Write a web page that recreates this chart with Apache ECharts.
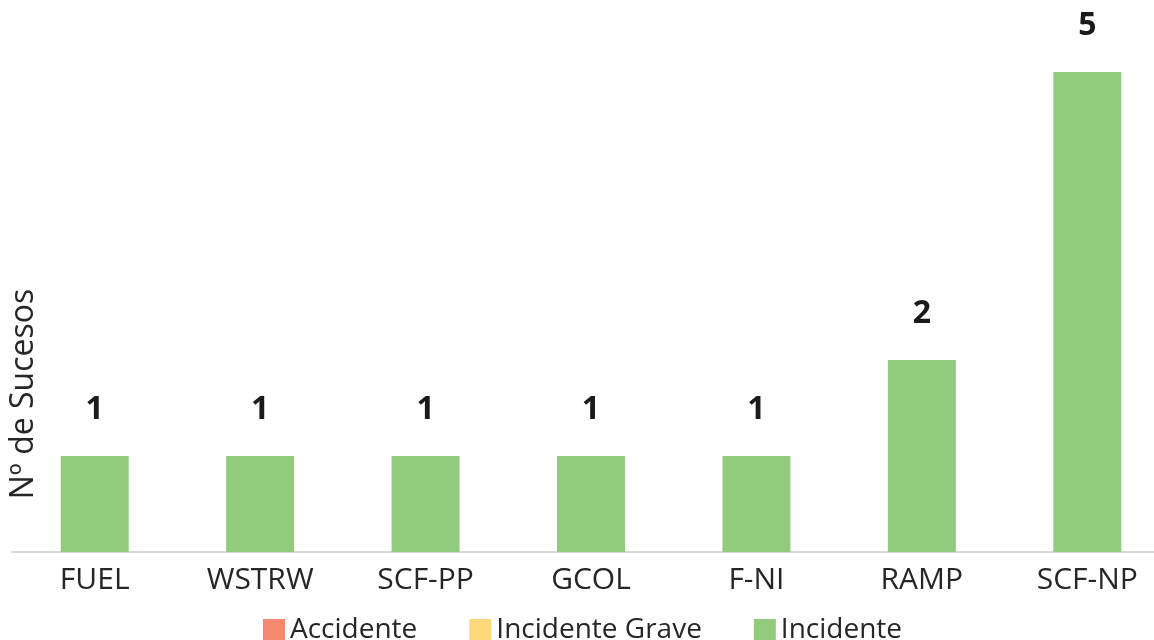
<!DOCTYPE html>
<html>
<head>
<meta charset="utf-8">
<script src="https://cdn.jsdelivr.net/npm/echarts@6/dist/echarts.min.js"></script>
<style>
html,body{margin:0;padding:0;background:#fff;}
#chart{width:1154px;height:640px;}
</style>
</head>
<body>
<div id="chart"></div>
<script>
var categories = ['FUEL', 'WSTRW', 'SCF-PP', 'GCOL', 'F-NI', 'RAMP', 'SCF-NP'];
var accidente = [0, 0, 0, 0, 0, 0, 0];
var incidenteGrave = [0, 0, 0, 0, 0, 0, 0];
var incidente = [1, 1, 1, 1, 1, 2, 5];
var seriesNames = ['Accidente', 'Incidente Grave', 'Incidente'];
var yAxisTitle = 'Nº de Sucesos';

var FONT = '"Open Sans", "Noto Sans", sans-serif';
var chart = echarts.init(document.getElementById('chart'), null, {renderer: 'canvas'});
chart.setOption({
  animation: false,
  backgroundColor: '#ffffff',
  textStyle: {fontFamily: FONT},
  grid: {left: 12, right: -16, top: 72, bottom: 88, containLabel: false, outerBoundsMode: 'none'},
  legend: {
    data: seriesNames,
    left: 258,
    top: 611,
    itemWidth: 22,
    itemHeight: 22,
    itemGap: 52,
    icon: 'rect',
    textStyle: {fontSize: 28, color: '#262626', fontFamily: FONT}
  },
  graphic: [{
    type: 'text',
    x: 24,
    y: 394,
    rotation: Math.PI / 2,
    style: {
      text: yAxisTitle,
      fontSize: 32,
      fontFamily: FONT,
      fill: '#262626',
      align: 'center',
      verticalAlign: 'middle'
    }
  }],
  xAxis: {
    type: 'category',
    data: categories,
    axisLine: {show: true, lineStyle: {color: '#D9D9D9', width: 2}},
    axisTick: {show: false},
    axisLabel: {fontSize: 30, color: '#262626', margin: 13, fontFamily: FONT}
  },
  yAxis: {
    type: 'value',
    min: 0,
    max: 5,
    interval: 1,
    show: false,
    splitLine: {show: false}
  },
  series: [
    {name: seriesNames[0], type: 'bar', stack: 'total', barWidth: 68, data: accidente,
     itemStyle: {color: '#F4896F'}},
    {name: seriesNames[1], type: 'bar', stack: 'total', barWidth: 68, data: incidenteGrave,
     itemStyle: {color: '#FDD97A'}},
    {name: seriesNames[2], type: 'bar', stack: 'total', barWidth: 68, data: incidente,
     itemStyle: {color: '#93CB7C'},
     label: {show: true, position: 'top', distance: 30, fontSize: 32, fontWeight: 'bold',
             color: '#1a1a1a', fontFamily: FONT}}
  ]
});
</script>
</body>
</html>
